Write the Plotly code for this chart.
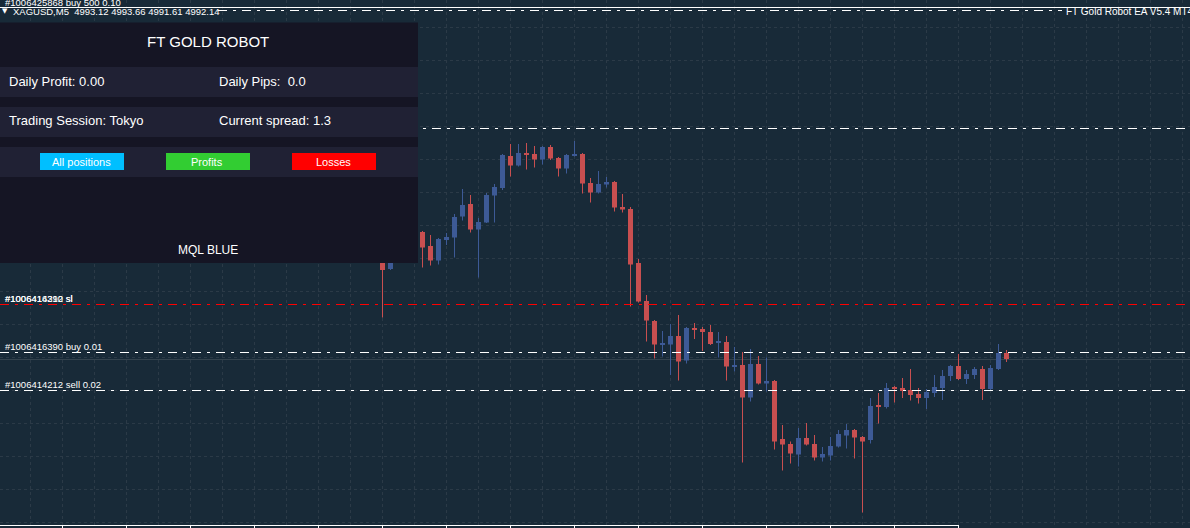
import plotly.graph_objects as go

# ---------------- data ----------------
bar_index = [0, 1, 5, 6, 7, 8, 9, 10, 11, 12, 13, 14, 15, 16, 17, 18, 19, 20,
             21, 22, 23, 24, 25, 26, 27, 28, 29, 30, 31, 32, 33, 34, 35, 36, 37,
             38, 39, 40, 41, 42, 43, 44, 45, 46, 47, 48, 49, 50, 51, 52, 53, 54,
             55, 56, 57, 58, 59, 60, 61, 62, 63, 64, 65, 66, 67, 68, 69, 70, 71,
             72, 73, 74, 75, 76, 77, 78]
open_ = [5012.2, 5010.2, 5017.6, 5014.8, 5011.9, 5016.0, 5016.5, 5020.7, 5023.2, 5018.1,
         5019.5, 5024.9, 5026.4, 5032.8, 5030.9, 5033.4, 5033.2, 5032.1, 5034.6, 5032.4,
         5030.3, 5032.9, 5033.2, 5027.4, 5025.5, 5027.1, 5027.6, 5022.6, 5022.2, 5011.4,
         5003.8, 4999.8, 4995.1, 4995.1, 4996.8, 4991.9, 4998.4, 4998.2, 4997.6, 4995.4,
         4995.6, 4990.6, 4991.0, 4984.5, 4991.2, 4987.3, 4987.8, 4976.2, 4975.2, 4973.1,
         4976.4, 4975.2, 4972.5, 4972.9, 4974.7, 4976.9, 4978.0, 4976.6, 4976.0, 4983.0,
         4982.6, 4986.4, 4986.4, 4986.0, 4985.2, 4984.4, 4985.4, 4986.4, 4988.8, 4990.8,
         4988.2, 4989.0, 4990.2, 4986.2, 4990.2, 4993.4]
high = [5013.0, 5012.0, 5017.8, 5017.0, 5016.4, 5017.4, 5021.2, 5026.2, 5025.0, 5020.4,
        5025.4, 5027.2, 5033.2, 5035.2, 5035.2, 5035.4, 5034.8, 5034.8, 5035.0, 5032.6,
        5033.2, 5035.8, 5033.4, 5028.4, 5029.8, 5028.6, 5027.8, 5025.2, 5022.6, 5012.2,
        5005.0, 5000.0, 4997.8, 4999.2, 5001.0, 4998.6, 4999.4, 4998.6, 4999.0, 4997.6,
        4996.8, 4994.6, 4993.6, 4994.2, 4992.8, 4992.5, 4988.0, 4979.0, 4975.7, 4978.4,
        4979.4, 4977.0, 4974.6, 4976.6, 4978.0, 4979.2, 4978.2, 4976.8, 4984.4, 4985.4,
        4987.4, 4986.8, 4988.4, 4990.2, 4986.4, 4986.2, 4989.0, 4990.0, 4991.0, 4993.2,
        4990.0, 4990.6, 4990.8, 4991.0, 4995.2, 4994.0]
low = [5000.5, 5010.0, 5010.5, 5010.9, 5011.1, 5015.0, 5012.5, 5019.9, 5017.5, 5008.5,
       5019.4, 5019.5, 5026.0, 5028.7, 5030.7, 5030.1, 5030.5, 5031.1, 5032.0, 5028.7,
       5029.3, 5032.7, 5025.3, 5023.5, 5025.3, 5026.5, 5021.7, 5021.5, 5002.7, 5003.5,
       4995.7, 4992.3, 4992.7, 4989.0, 4987.9, 4991.3, 4996.2, 4993.8, 4995.0, 4992.5,
       4987.9, 4989.7, 4971.5, 4983.7, 4987.1, 4985.7, 4974.1, 4969.9, 4971.3, 4970.7,
       4974.9, 4971.9, 4971.7, 4971.9, 4974.5, 4974.3, 4972.3, 4961.5, 4975.3, 4979.3,
       4982.3, 4983.5, 4984.4, 4983.9, 4983.3, 4982.2, 4984.6, 4984.0, 4987.8, 4988.0,
       4987.2, 4988.2, 4984.0, 4986.0, 4990.0, 4991.6]
close = [5010.0, 5011.6, 5014.5, 5011.9, 5016.2, 5016.6, 5020.6, 5023.0, 5018.1, 5019.6,
         5025.0, 5026.6, 5033.0, 5030.9, 5033.4, 5033.0, 5032.1, 5034.6, 5032.3, 5030.3,
         5033.0, 5033.2, 5027.3, 5025.5, 5027.2, 5027.6, 5022.5, 5022.1, 5011.1, 5003.7,
         4999.9, 4995.1, 4995.3, 4996.8, 4991.7, 4998.4, 4998.0, 4997.6, 4995.2, 4995.6,
         4990.7, 4991.0, 4984.5, 4991.2, 4987.3, 4987.8, 4975.7, 4975.1, 4973.3, 4976.4,
         4975.1, 4972.5, 4973.2, 4974.8, 4977.2, 4978.0, 4976.5, 4975.7, 4982.8, 4982.6,
         4986.4, 4986.2, 4985.8, 4985.0, 4984.4, 4985.6, 4986.6, 4988.8, 4990.8, 4988.2,
         4989.2, 4990.2, 4986.2, 4990.4, 4993.4, 4992.2]

# order / price lines (price levels) and their labels
sl_price = 5003.1
buy_001_price = 4993.5
sell_002_price = 4985.9
upper_order_price = 5038.3
top_order_price = 5062.5
top_dash_price = 5061.9
bid_price = 4992.1

sl_labels = ["#1006414212 sl", "#1006416390 sl"]
buy_label = "#1006416390 buy 0.01"
sell_label = "#1006414212 sell 0.02"
top_label = "#1006425868 buy 500 0.10"
header_text = "XAGUSD,M5  4993.12 4993.66 4991.61 4992.14"
ea_text = "FT Gold Robot EA V5.4 MT4"

panel_title = "FT GOLD ROBOT"
panel_rows = [("Daily Profit: 0.00", "Daily Pips:  0.0"),
              ("Trading Session: Tokyo", "Current spread: 1.3")]
button_labels = ["All positions", "Profits", "Losses"]
panel_footer = "MQL BLUE"

# ---------------- style ----------------
W, H = 1190, 528
BG = "#182a38"
GRID = "#2b3a47"
BULL = "#3d5a96"
BEAR = "#c84f50"
PANEL = "#151524"
ROW = "#202134"
BTN_COLORS = ["#00bfff", "#32cd32", "#ff0000"]
FONT = "Liberation Sans, Arial, sans-serif"
DASHDOT = "9px,6px,3px,6px"

px_per_bar = 8.0
first_bar_px = 382.5
x_min = -first_bar_px / px_per_bar
x_max = x_min + W / px_per_bar
y_top = 5064.0
y_bot = y_top - H * 0.2


def ax(p):
    return p / W


def ay(p):
    return 1 - p / H


colors = [BULL if c >= o else BEAR for o, c in zip(open_, close)]
body_base = [min(o, c) for o, c in zip(open_, close)]
body_h = [max(abs(c - o), 0.3) for o, c in zip(open_, close)]

fig = go.Figure()

for col in (BULL, BEAR):
    xs, ys = [], []
    for i, o, h, l, c, cc in zip(bar_index, open_, high, low, close, colors):
        if cc == col:
            xs += [i, i, None]
            ys += [l, h, None]
    fig.add_trace(go.Scatter(x=xs, y=ys, mode="lines", line=dict(color=col, width=1),
                             hoverinfo="skip", showlegend=False))

fig.add_trace(go.Bar(x=bar_index, y=body_h, base=body_base, width=0.625,
                     marker=dict(color=colors, line=dict(width=0)),
                     hoverinfo="skip", showlegend=False))

shapes = []
# bid line
shapes.append(dict(type="line", xref="paper", yref="y", x0=0, x1=1, y0=bid_price, y1=bid_price,
                   line=dict(color="#34434e", width=1), layer="between"))
# order lines
for p, col in [(sl_price, "#ff0000"), (buy_001_price, "#ffffff"),
               (sell_002_price, "#ffffff"), (upper_order_price, "#ffffff")]:
    shapes.append(dict(type="line", xref="paper", yref="y", x0=0, x1=1, y0=p, y1=p,
                       line=dict(color=col, width=1, dash=DASHDOT), layer="above"))
shapes.append(dict(type="line", xref="paper", yref="y", x0=0, x1=1,
                   y0=top_order_price, y1=top_order_price,
                   line=dict(color="#ffffff", width=1), layer="above"))
shapes.append(dict(type="line", xref="paper", yref="y", x0=ax(218), x1=ax(1062),
                   y0=top_dash_price, y1=top_dash_price,
                   line=dict(color="#ffffff", width=1, dash=DASHDOT), layer="above"))
# bottom time-scale edge
shapes.append(dict(type="line", xref="paper", yref="paper", x0=0, x1=ax(959),
                   y0=ay(525.5), y1=ay(525.5), line=dict(color="#ffffff", width=1), layer="above"))
tx = 62.5
while tx < 960:
    shapes.append(dict(type="line", xref="paper", yref="paper", x0=ax(tx), x1=ax(tx),
                       y0=ay(525.5), y1=ay(528), line=dict(color="#ffffff", width=1), layer="above"))
    tx += 64
# panel
shapes.append(dict(type="rect", xref="paper", yref="paper", x0=0, x1=ax(418), y0=ay(263), y1=ay(22.5),
                   fillcolor=PANEL, line=dict(width=0), layer="above"))
for (t, b) in [(67, 97), (107, 137), (147, 177)]:
    shapes.append(dict(type="rect", xref="paper", yref="paper", x0=0, x1=ax(418), y0=ay(b), y1=ay(t),
                       fillcolor=ROW, line=dict(width=0), layer="above"))
btn_x = [(40, 124), (166, 250), (292, 376)]
for (l, r), c in zip(btn_x, BTN_COLORS):
    shapes.append(dict(type="rect", xref="paper", yref="paper", x0=ax(l), x1=ax(r), y0=ay(170), y1=ay(153),
                       fillcolor=c, line=dict(width=0), layer="above"))

ann = []


def txt(text, x, y, size, anchor="left", color="#ffffff", family=FONT, xref="paper", yref="paper", yshift=0):
    ann.append(dict(text=text, x=x, y=y, xref=xref, yref=yref, xanchor=anchor, yanchor="middle",
                    showarrow=False, yshift=yshift, borderpad=0,
                    font=dict(family=family, size=size, color=color)))


# chart texts
txt(top_label, ax(4), ay(2.5), 9.5)
txt("▼", ax(1), ay(11), 7, family="DejaVu Sans")
txt(header_text, ax(12), ay(11), 9.5)
txt(ea_text, ax(1065), ay(11.5), 10)
for s in sl_labels:
    txt(s, ax(4), sl_price, 9.5, yref="y", yshift=6.5)
txt(buy_label, ax(4), buy_001_price, 9.5, yref="y", yshift=6.5)
txt(sell_label, ax(4), sell_002_price, 9.5, yref="y", yshift=6.5)

# panel texts
txt(panel_title, ax(208), ay(41.5), 15, anchor="center")
for (left, right), yy in zip(panel_rows, [81.5, 121]):
    txt(left, ax(7.5), ay(yy), 13)
    txt(right, ax(217.5), ay(yy), 13)
for (l, r), lab in zip(btn_x, button_labels):
    txt(lab, ax((l + r) / 2 - 1), ay(161.5), 11, anchor="center")
txt(panel_footer, ax(208), ay(250.5), 12, anchor="center")

fig.update_layout(
    width=W, height=H, margin=dict(l=0, r=0, t=0, b=0),
    paper_bgcolor=BG, plot_bgcolor=BG, barmode="overlay",
    showlegend=False, shapes=shapes, annotations=ann, hovermode=False,
    xaxis=dict(range=[x_min, x_max], tickmode="linear", tick0=-44, dtick=4,
               showgrid=True, gridcolor=GRID, gridwidth=1, griddash="3px,3px",
               showticklabels=False, ticks="", zeroline=False, showline=False, fixedrange=True),
    yaxis=dict(range=[y_bot, y_top], tickmode="linear", tick0=4959.6, dtick=6.6,
               showgrid=True, gridcolor=GRID, gridwidth=1, griddash="3px,3px",
               showticklabels=False, ticks="", zeroline=False, showline=False, fixedrange=True),
)

fig.write_html("out.html")
